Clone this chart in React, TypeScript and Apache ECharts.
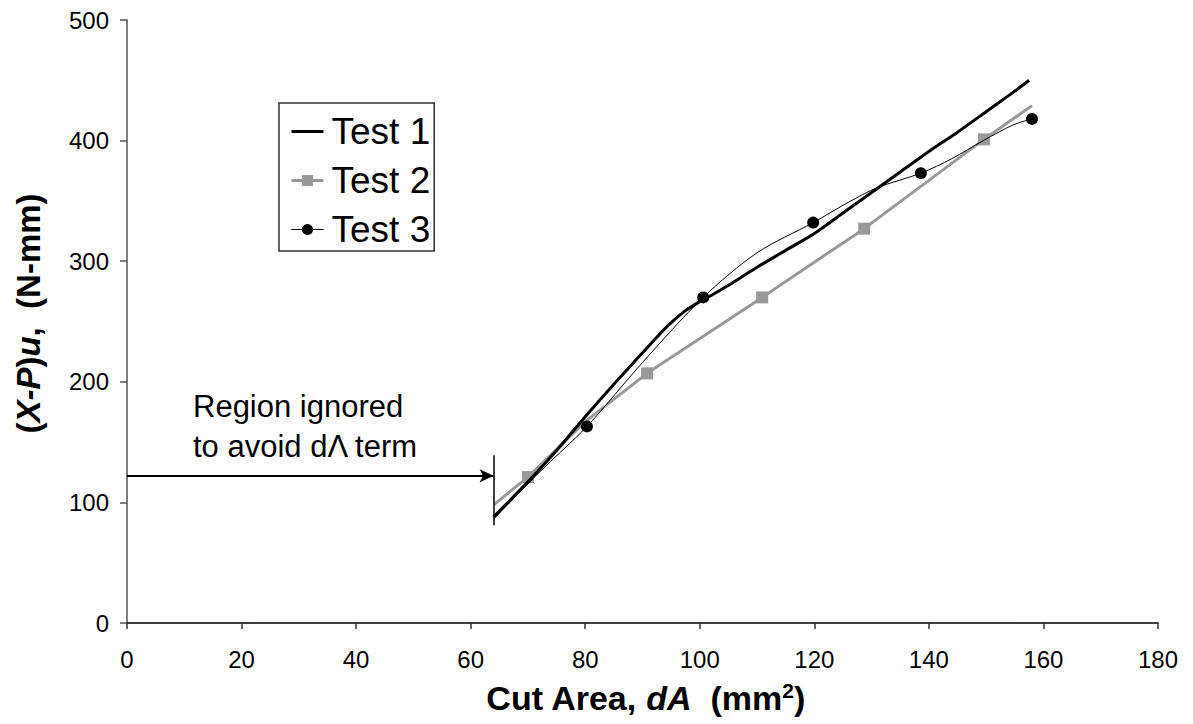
import React, { useEffect, useRef } from "react";
import * as echarts from "echarts";

const xTicks = { min: 0, max: 180, interval: 20 };
const yTicks = { min: 0, max: 500, interval: 100 };

const test1: [number, number][] = [
  [64, 88], [70, 117], [75, 143], [80, 171], [85, 198], [90, 224], [92.5, 237],
  [95, 249], [97.5, 259], [100, 266.5], [102.5, 273], [105, 280], [110, 295],
  [115, 309], [120, 323], [125, 340], [130, 357], [135, 374], [140, 391],
  [145, 407], [150, 424], [155, 441], [157.5, 450],
];

// [x, y, hasMarker]
const test2: [number, number, boolean][] = [
  [64, 98, false], [70, 121, true], [80, 167, false], [90.8, 207, true],
  [110.9, 270, true], [128.7, 327, true], [149.6, 401, true], [158, 429, false],
];

const test3: [number, number, boolean][] = [
  [64, 86, false], [72, 125, false], [80.3, 163, true], [90, 216, false],
  [100.6, 270, true], [110, 307, false], [119.8, 332, true], [126, 349, false],
  [131, 361, false], [138.6, 373, true], [144, 385, false], [149.5, 400, false],
  [154.7, 413, false], [158, 418, true],
];

const arrowY = 122;
const cutX = 64;
const cutLine = [81, 139];

const FONT = 'Arial, "Liberation Sans", sans-serif';

export default function App() {
  const ref = useRef<HTMLDivElement>(null);
  useEffect(() => {
    if (!ref.current) return;
    const chart = echarts.init(ref.current, null, { renderer: "svg" });
    chart.setOption({
      animation: false,
      backgroundColor: "#fff",
      textStyle: { fontFamily: FONT, color: "#000" },
      grid: { left: 127, right: 35, top: 20, bottom: 101, containLabel: false, outerBoundsMode: "none" },
      legend: {
        data: [
          { name: "Test 1", itemStyle: { opacity: 0 }, lineStyle: { width: 3, color: "#000" } },
          { name: "Test 2", lineStyle: { width: 3, color: "#999" } },
          { name: "Test 3", lineStyle: { width: 1, color: "#000" } },
        ],
        orient: "vertical",
        left: 279,
        top: 103,
        itemWidth: 32,
        itemHeight: 14,
        itemGap: 12,
        padding: [10, 4, 3, 11],
        borderColor: "#333",
        borderWidth: 1.5,
        textStyle: { fontSize: 37, lineHeight: 37, fontFamily: FONT, color: "#000", padding: [0, 0, 0, 3] },
      },
      xAxis: {
        type: "value",
        min: xTicks.min,
        max: xTicks.max,
        interval: xTicks.interval,
        splitLine: { show: false },
        axisLine: { show: true, onZero: false, lineStyle: { color: "#000", width: 1.5 } },
        axisTick: { show: true, length: 6, lineStyle: { color: "#333", width: 1.5 } },
        axisLabel: { fontSize: 24, color: "#000", margin: 24, fontFamily: FONT },
        name: "Cut Area, {i|dA}  (mm{sup|2})",
        nameLocation: "middle",
        nameGap: 57,
        nameTextStyle: {
          fontSize: 34,
          fontWeight: "bold",
          color: "#000",
          fontFamily: FONT,
          padding: [0, 0, 0, 6],
          rich: {
            i: { fontSize: 34, fontWeight: "bold", fontStyle: "italic", fontFamily: FONT },
            sup: { fontSize: 21, fontWeight: "bold", fontFamily: FONT, verticalAlign: "top", padding: [0, 0, 14, 0] },
          },
        },
      },
      yAxis: {
        type: "value",
        min: yTicks.min,
        max: yTicks.max,
        interval: yTicks.interval,
        splitLine: { show: false },
        axisLine: { show: true, lineStyle: { color: "#555", width: 1.5 } },
        axisTick: { show: true, length: 7, lineStyle: { color: "#555", width: 1.5 } },
        axisLabel: { fontSize: 24, color: "#000", margin: 18, fontFamily: FONT },
        name: "({i|X-P}){i|u},  (N-mm)",
        nameLocation: "middle",
        nameGap: 82,
        nameTextStyle: {
          fontSize: 33,
          fontWeight: "bold",
          color: "#000",
          fontFamily: FONT,
          padding: [0, 0, 0, 16],
          rich: {
            i: { fontSize: 33, fontWeight: "bold", fontStyle: "italic", fontFamily: FONT },
          },
        },
      },
      series: [
        {
          name: "Test 1",
          type: "line",
          smooth: 0.3,
          symbol: "none",
          z: 3,
          lineStyle: { color: "#000", width: 3 },
          itemStyle: { color: "#000" },
          data: test1,
          markLine: {
            silent: true,
            symbol: ["none", "none"],
            label: { show: false },
            lineStyle: { color: "#000", width: 1.5, type: "solid" },
            data: [
              [{ coord: [cutX, cutLine[0]] }, { coord: [cutX, cutLine[1]] }],
            ],
          },
        },
        {
          name: "Test 2",
          type: "line",
          symbol: "rect",
          symbolSize: 12,
          z: 2,
          lineStyle: { color: "#999", width: 3 },
          itemStyle: { color: "#999" },
          data: test2.map(([x, y, m]) => ({ value: [x, y], symbol: m ? "rect" : "none" })),
          markLine: {
            silent: true,
            symbol: ["none", "arrow"],
            symbolSize: [10, 14],
            label: { show: false },
            lineStyle: { color: "#000", width: 2, type: "solid" },
            itemStyle: { color: "#000" },
            data: [
              [{ coord: [0, arrowY] }, { coord: [cutX, arrowY] }],
            ],
          },
        },
        {
          name: "Test 3",
          type: "line",
          smooth: 0.3,
          symbol: "circle",
          symbolSize: 12,
          z: 4,
          lineStyle: { color: "#000", width: 1 },
          itemStyle: { color: "#000" },
          data: test3.map(([x, y, m]) => ({ value: [x, y], symbol: m ? "circle" : "none" })),
        },
      ],
      graphic: [
        {
          type: "text",
          left: 193,
          top: 386,
          style: {
            text: "Region ignored\nto avoid d\u039B term",
            fontSize: 31,
            lineHeight: 40,
            fontFamily: FONT,
            fill: "#000",
          },
        },
      ],
    });
    return () => chart.dispose();
  }, []);
  return <div ref={ref} style={{ width: 1193, height: 724, position: "absolute", left: 0, top: 0 }} />;
}
